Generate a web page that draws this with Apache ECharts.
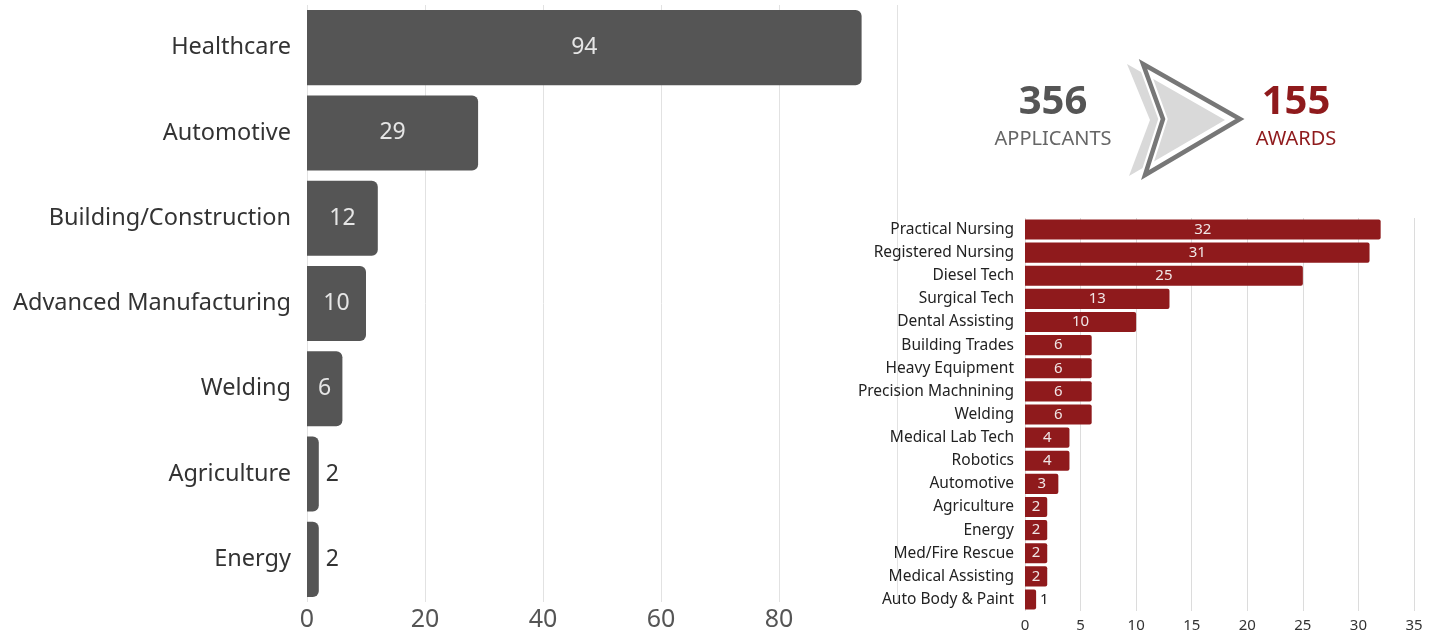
<!DOCTYPE html>
<html>
<head>
<meta charset="utf-8">
<script src="https://cdn.jsdelivr.net/npm/echarts@6/dist/echarts.min.js"></script>
<style>
  html, body { margin: 0; padding: 0; background: #fff; }
  #chart { width: 1437px; height: 633px; }
</style>
</head>
<body>
<div id="chart"></div>
<script>
// Applicants by career field
const fieldCategories = ['Healthcare', 'Automotive', 'Building/Construction', 'Advanced Manufacturing', 'Welding', 'Agriculture', 'Energy'];
const fieldApplicants = [94, 29, 12, 10, 6, 2, 2];
const fieldTicks = [0, 20, 40, 60, 80];

// Awards by program
const programCategories = ['Practical Nursing', 'Registered Nursing', 'Diesel Tech', 'Surgical Tech', 'Dental Assisting', 'Building Trades', 'Heavy Equipment', 'Precision Machnining', 'Welding', 'Medical Lab Tech', 'Robotics', 'Automotive', 'Agriculture', 'Energy', 'Med/Fire Rescue', 'Medical Assisting', 'Auto Body & Paint'];
const programAwards = [32, 31, 25, 13, 10, 6, 6, 6, 6, 4, 4, 3, 2, 2, 2, 2, 1];
const programTicks = [0, 5, 10, 15, 20, 25, 30, 35];

// Totals
const totalApplicants = 356;
const totalAwards = 155;

const FONT = '"Noto Sans", "Open Sans", sans-serif';
const GREY_BAR = '#555555';
const RED_BAR = '#8f1a1c';

const chart = echarts.init(document.getElementById('chart'));

const leftData = fieldApplicants.map(v => ({
  value: v,
  label: v <= 2
    ? { position: 'right', color: '#333', distance: 7 }
    : { position: 'inside', color: '#e6e6e6' }
}));

const rightData = programAwards.map(v => ({
  value: v,
  label: v <= 1
    ? { position: 'right', color: '#222', distance: 4 }
    : { position: 'inside', color: '#f0e6e6' }
}));

const chevronOutline = [[1143, 64], [1240, 119], [1145, 175], [1163, 119]];

chart.setOption({
  animation: false,
  backgroundColor: '#ffffff',
  grid: [
    { left: 307, right: 540, top: 5, bottom: 31 },
    { left: 1025, right: 23, top: 218, bottom: 21 }
  ],
  xAxis: [
    {
      gridIndex: 0, type: 'value', min: 0, max: 100, interval: 20,
      axisLine: { show: false }, axisTick: { show: false },
      splitLine: { show: true, lineStyle: { color: '#e2e2e2', width: 1 } },
      axisLabel: {
        fontFamily: FONT, fontSize: 25, color: '#555', margin: 5,
        formatter: v => (fieldTicks.includes(v) ? String(v) : '')
      }
    },
    {
      gridIndex: 1, type: 'value', min: 0, max: 35, interval: 5,
      axisLine: { show: false }, axisTick: { show: false },
      splitLine: { show: true, lineStyle: { color: '#dcdcdc', width: 1 } },
      axisLabel: {
        fontFamily: FONT, fontSize: 15, color: '#333', margin: 7,
        formatter: v => (programTicks.includes(v) ? String(v) : '')
      }
    }
  ],
  yAxis: [
    {
      gridIndex: 0, type: 'category', data: fieldCategories, inverse: true,
      axisLine: { show: false }, axisTick: { show: false },
      axisLabel: { fontFamily: FONT, fontSize: 23.5, color: '#333', margin: 16 }
    },
    {
      gridIndex: 1, type: 'category', data: programCategories, inverse: true,
      axisLine: { show: false }, axisTick: { show: false },
      axisLabel: { fontFamily: FONT, fontSize: 15.5, color: '#222', margin: 11 }
    }
  ],
  series: [
    {
      type: 'bar', xAxisIndex: 0, yAxisIndex: 0, data: leftData,
      barWidth: '88%', z: 3,
      itemStyle: { color: GREY_BAR, borderRadius: [0, 6, 6, 0] },
      label: { show: true, fontFamily: FONT, fontSize: 23 }
    },
    {
      type: 'bar', xAxisIndex: 1, yAxisIndex: 1, data: rightData,
      barWidth: '87%', z: 3,
      itemStyle: { color: RED_BAR, borderRadius: [0, 2, 2, 0] },
      label: { show: true, fontFamily: FONT, fontSize: 15 }
    }
  ],
  graphic: [
    // white panel behind the awards chart so the last grid line of the left chart stops above it
    { type: 'rect', z: -1, silent: true,
      shape: { x: 840, y: 212, width: 597, height: 421 },
      style: { fill: '#ffffff' } },
    // filled chevron
    { type: 'polygon', z: 5, silent: true,
      shape: { points: [[1127, 64], [1225, 120], [1129, 176], [1150, 120]] },
      style: { fill: '#d9d9d9' } },
    // outlined chevron with a white halo
    { type: 'polygon', z: 6, silent: true,
      shape: { points: chevronOutline },
      style: { fill: 'none', stroke: '#ffffff', lineWidth: 9, lineJoin: 'miter' } },
    { type: 'polygon', z: 7, silent: true,
      shape: { points: chevronOutline },
      style: { fill: 'none', stroke: '#777777', lineWidth: 4.5, lineJoin: 'miter' } },
    { type: 'text', z: 8, silent: true, x: 1053, y: 103,
      style: { text: String(totalApplicants), align: 'center', verticalAlign: 'middle',
        font: 'bold 40px ' + FONT, fill: '#555555' } },
    { type: 'text', z: 8, silent: true, x: 1053, y: 139,
      style: { text: 'APPLICANTS', align: 'center', verticalAlign: 'middle',
        font: '20px ' + FONT, fill: '#666666' } },
    { type: 'text', z: 8, silent: true, x: 1296, y: 103,
      style: { text: String(totalAwards), align: 'center', verticalAlign: 'middle',
        font: 'bold 40px ' + FONT, fill: '#8f1a1c' } },
    { type: 'text', z: 8, silent: true, x: 1296, y: 139,
      style: { text: 'AWARDS', align: 'center', verticalAlign: 'middle',
        font: '20px ' + FONT, fill: '#8f1a1c' } }
  ]
});
</script>
</body>
</html>
